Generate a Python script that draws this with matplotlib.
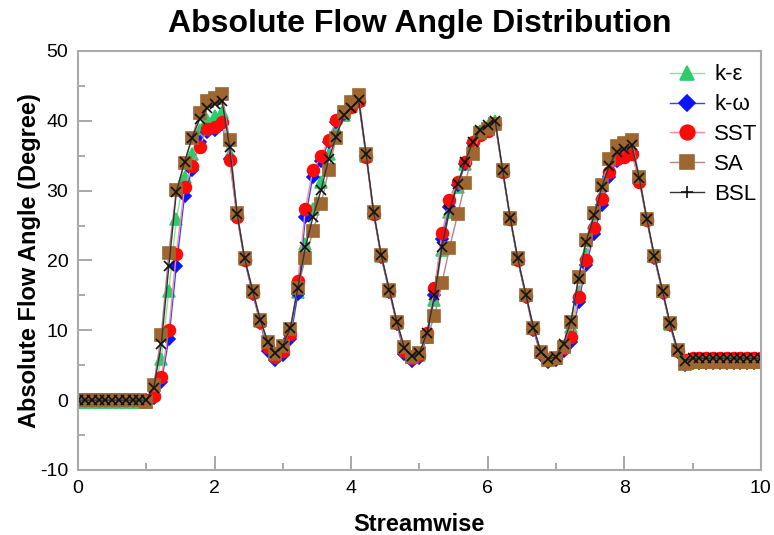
import matplotlib
matplotlib.use("Agg")
import matplotlib.pyplot as plt
from matplotlib.lines import Line2D

plt.rcParams['font.family'] = ['Liberation Sans', 'DejaVu Sans']
plt.rcParams['axes.unicode_minus'] = False

# ---- data ----
x_inlet = [0.0, 0.1, 0.2, 0.3, 0.4, 0.5, 0.6, 0.7, 0.8, 0.9, 1.0]
x_blade = [1.11, 1.22, 1.33, 1.44, 1.56, 1.67, 1.78, 1.89, 2.0, 2.11,
           2.22, 2.33, 2.44, 2.56, 2.67, 2.78, 2.89, 3.0, 3.11, 3.22,
           3.33, 3.44, 3.56, 3.67, 3.78, 3.89, 4.0, 4.11, 4.22, 4.33,
           4.44, 4.56, 4.67, 4.78, 4.89, 5.0, 5.11, 5.22, 5.33, 5.44,
           5.56, 5.67, 5.78, 5.89, 6.0, 6.11, 6.22, 6.33, 6.44, 6.56,
           6.67, 6.78, 6.89, 7.0, 7.11, 7.22, 7.33, 7.44, 7.56, 7.67,
           7.78, 7.89, 8.0, 8.11, 8.22, 8.33, 8.44, 8.56, 8.67, 8.78,
           8.89]
x_outlet = [9.0, 9.1, 9.2, 9.3, 9.4, 9.5, 9.6, 9.7, 9.8, 9.9, 10.0]

ke_inlet = [-0.2] * 11
ke_blade = [0.9, 5.9, 15.7, 26.0, 32.0, 35.3, 38.7, 40.1, 40.7, 41.3,
            35.3, 26.6, 20.2, 15.5, 11.4, 8.0, 6.5, 7.5, 9.8, 15.5,
            22.4, 27.4, 31.2, 35.3, 38.8, 40.9, 42.1, 43.0, 35.0, 26.8,
            20.7, 15.7, 11.1, 7.4, 6.2, 6.5, 9.0, 14.3, 21.5, 27.0,
            30.5, 33.8, 36.8, 38.5, 39.3, 40.0, 32.8, 26.0, 20.2, 15.0,
            10.3, 6.9, 5.9, 6.1, 7.8, 10.5, 15.5, 21.0, 25.3, 29.5,
            33.0, 35.0, 35.5, 36.0, 31.8, 25.9, 20.6, 15.6, 10.9, 7.2,
            5.6]
ke_outlet = [5.9] * 11

kw_inlet = [0.0] * 11
kw_blade = [0.3, 2.6, 8.8, 19.2, 29.3, 33.0, 37.0, 38.4, 38.7, 39.6,
            34.6, 26.3, 20.0, 15.2, 11.0, 7.1, 5.7, 6.4, 8.8, 15.2,
            26.2, 32.0, 34.3, 37.0, 39.8, 41.0, 42.0, 42.8, 35.0, 26.7,
            20.5, 15.5, 10.9, 6.6, 5.6, 6.1, 9.0, 15.0, 23.1, 27.7,
            30.8, 33.8, 36.8, 38.0, 38.7, 39.6, 32.7, 25.9, 20.0, 14.8,
            10.0, 6.4, 5.5, 5.8, 7.0, 8.4, 14.0, 19.3, 23.8, 28.0,
            32.0, 34.3, 35.0, 35.5, 31.5, 25.8, 20.4, 15.4, 10.7, 6.9,
            5.0]
kw_outlet = [5.3] * 11

sst_inlet = [0.0] * 11
sst_blade = [0.6, 3.3, 10.1, 21.0, 30.5, 33.5, 36.3, 38.8, 39.1, 39.9,
             34.4, 26.2, 20.1, 15.4, 11.2, 7.6, 6.2, 7.0, 9.5, 17.0,
             27.4, 33.0, 34.9, 37.3, 40.1, 41.3, 42.0, 42.8, 34.8, 26.7,
             20.6, 15.6, 11.0, 7.0, 6.0, 6.5, 9.6, 16.0, 23.9, 28.6,
             31.2, 34.1, 37.0, 38.0, 38.6, 39.6, 32.6, 25.9, 20.1, 14.9,
             10.2, 6.7, 5.8, 6.0, 7.4, 9.1, 14.8, 20.1, 24.6, 28.8,
             32.7, 34.5, 34.8, 35.3, 31.3, 25.8, 20.5, 15.5, 10.9, 7.1,
             5.8]
sst_outlet = [6.0] * 11

sa_inlet = [0.0, 0.0, 0.0, 0.0, 0.0, 0.0, 0.0, 0.0, 0.0, 0.0, -0.3]
sa_blade = [2.2, 9.4, 21.1, 30.1, 33.9, 37.6, 41.1, 42.8, 43.3, 43.9,
            37.2, 26.8, 20.3, 15.6, 11.5, 8.3, 6.6, 7.7, 10.2, 16.1,
            20.3, 24.2, 28.1, 32.9, 37.6, 41.3, 42.7, 43.7, 35.2, 26.9,
            20.8, 15.8, 11.2, 7.6, 6.2, 6.7, 9.0, 12.0, 16.8, 21.8,
            26.6, 31.1, 35.3, 38.2, 38.9, 39.6, 32.9, 26.1, 20.3, 15.1,
            10.4, 6.9, 5.8, 6.1, 7.6, 11.2, 17.7, 23.0, 26.8, 30.8,
            34.5, 36.4, 36.8, 37.2, 32.0, 26.0, 20.7, 15.7, 11.0, 7.2,
            5.2]
sa_outlet = [5.4] * 11

bsl_inlet = [0.0] * 11
bsl_blade = [1.8, 8.0, 19.2, 29.8, 34.1, 37.6, 40.2, 41.8, 42.4, 42.8,
             36.3, 26.7, 20.3, 15.6, 11.5, 8.3, 6.7, 7.8, 10.4, 16.1,
             21.9, 26.2, 30.1, 34.5, 37.7, 40.8, 41.8, 43.0, 35.2, 26.9,
             20.8, 15.8, 11.2, 7.5, 6.3, 6.8, 9.6, 15.0, 21.9, 27.2,
             31.0, 34.1, 37.0, 38.7, 39.4, 40.0, 32.9, 26.1, 20.3, 15.1,
             10.4, 6.9, 5.9, 6.2, 8.1, 11.4, 17.4, 22.7, 26.5, 30.5,
             33.6, 35.6, 35.9, 36.5, 31.8, 26.0, 20.7, 15.7, 11.0, 7.2,
             5.6]
bsl_outlet = [6.0] * 11

labels = ['k-\u03b5', 'k-\u03c9', 'SST', 'SA', 'BSL']
x_ticks = [0, 2, 4, 6, 8, 10]
y_ticks = [-10, 0, 10, 20, 30, 40, 50]

# ---- figure ----
fig = plt.figure(figsize=(7.74, 5.35), dpi=100)
ax = fig.add_axes([0.1008, 0.1215, 0.8822, 0.7832])

xs = x_inlet + x_blade + x_outlet
series = [
    (ke_inlet + ke_blade + ke_outlet, '#8fe0a0', '^', '#2dcc6a', 8),
    (kw_inlet + kw_blade + kw_outlet, '#3344ff', 'D', '#0a14ff', 6),
    (sst_inlet + sst_blade + sst_outlet, '#ff8c8c', 'o', '#ff0a0a', 8.5),
    (sa_inlet + sa_blade + sa_outlet, '#b58585', 's', '#9e6630', 8),
    (bsl_inlet + bsl_blade + bsl_outlet, '#333333', 'x', '#111111', 7),
]
for (ys, lc, mk, mc, ms), lab in zip(series, labels):
    ax.plot(xs, ys, color=lc, lw=1.0, marker=mk, markersize=ms,
            markerfacecolor=mc, markeredgecolor=mc, markeredgewidth=1.2,
            label=lab)

ax.set_xlim(0, 10)
ax.set_ylim(-10, 50)
ax.set_xticks(x_ticks)
ax.set_yticks(y_ticks)
ax.set_xticks([1, 3, 5, 7, 9], minor=True)
ax.set_yticks([-5, 5, 15, 25, 35, 45], minor=True)
ax.tick_params(which='both', direction='in', color='#999999', width=1.2,
               labelsize=14, top=False, right=False)
ax.tick_params(which='major', length=10, pad=7)
ax.tick_params(which='minor', length=5)
for s in ax.spines.values():
    s.set_color('#aaaaaa')
    s.set_linewidth(1.5)

ax.set_xlabel('Streamwise', fontsize=17, fontweight='bold', labelpad=12)
ax.set_ylabel('Absolute Flow Angle (Degree)', fontsize=17, fontweight='bold',
              labelpad=-1)
ax.set_title('Absolute Flow Angle Distribution', fontsize=23,
             fontweight='bold', pad=14)

handles = []
for (ys, lc, mk, mc, ms), lab in zip(series, labels):
    hm = '+' if mk == 'x' else mk
    handles.append(Line2D([], [], color=lc, lw=1.0, marker=hm,
                          markersize=ms + 2, markerfacecolor=mc,
                          markeredgecolor=mc, markeredgewidth=1.2))
ax.legend(handles, labels, loc='upper right', bbox_to_anchor=(1.018, 1.005),
          frameon=False, fontsize=16, handlelength=1.55, handletextpad=0.45,
          labelspacing=0.4, borderpad=0.2)

fig.savefig('out.png', dpi=100)
